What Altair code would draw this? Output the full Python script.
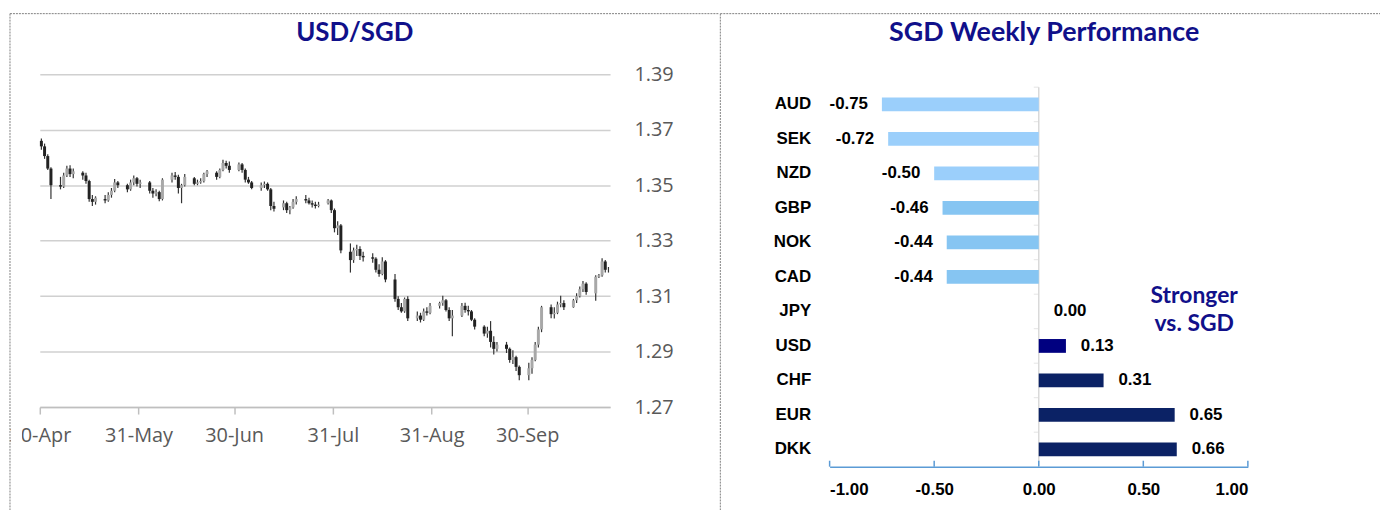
import altair as alt
import pandas as pd

# ---------------- USD/SGD daily candles ----------------
dates = pd.bdate_range("2024-04-30", "2024-10-25") + pd.Timedelta(hours=12)

opens = [
    1.3660, 1.3640, 1.3605, 1.3560,
    1.3500, 1.3495, 1.3535, 1.3560, 1.3540,
    1.3545, 1.3535, 1.3515, 1.3450, 1.3440,
    1.3450, 1.3445, 1.3465, 1.3480, 1.3510,
    1.3500, 1.3485, 1.3510, 1.3525, 1.3505,
    1.3510, 1.3480, 1.3470, 1.3475, 1.3450,
    1.3520, 1.3535, 1.3530, 1.3490, 1.3500,
    1.3525, 1.3505, 1.3510, 1.3515, 1.3540,
    1.3545, 1.3530, 1.3555, 1.3580, 1.3570,
    1.3555, 1.3575, 1.3555, 1.3520, 1.3510,
    1.3490, 1.3500, 1.3505, 1.3485, 1.3425,
    1.3420, 1.3435, 1.3410, 1.3420, 1.3440,
    1.3450, 1.3445, 1.3435, 1.3430, 1.3425,
    1.3435, 1.3445, 1.3410, 1.3345, 1.3355,
    1.3260, 1.3230, 1.3265, 1.3270, 1.3245,
    1.3240, 1.3235, 1.3195, 1.3180, 1.3225,
    1.3160, 1.3090, 1.3060, 1.3045, 1.3090,
    1.3020, 1.3030, 1.3015, 1.3045, 1.3040,
    1.3065, 1.3075, 1.3085, 1.3050, 1.3020,
    1.3030, 1.3065, 1.3050, 1.3045, 1.3015,
    1.2990, 1.2965, 1.2975, 1.2935, 1.2910,
    1.2925, 1.2910, 1.2870, 1.2880, 1.2845,
    1.2815, 1.2840, 1.2870, 1.2925, 1.2980,
    1.3060, 1.3035, 1.3040, 1.3070, 1.3075,
    1.3060, 1.3085, 1.3100, 1.3125, 1.3145,
    1.3110, 1.3170, 1.3175, 1.3225, 1.3195,
]
highs = [
    1.3668, 1.3650, 1.3612, 1.3565,
    1.3530, 1.3545, 1.3570, 1.3572, 1.3560,
    1.3550, 1.3545, 1.3520, 1.3465, 1.3460,
    1.3465, 1.3475, 1.3490, 1.3522, 1.3515,
    1.3505, 1.3520, 1.3535, 1.3530, 1.3520,
    1.3515, 1.3490, 1.3485, 1.3480, 1.3525,
    1.3545, 1.3548, 1.3538, 1.3505, 1.3540,
    1.3530, 1.3520, 1.3525, 1.3545, 1.3555,
    1.3550, 1.3560, 1.3592, 1.3588, 1.3585,
    1.3582, 1.3580, 1.3560, 1.3530, 1.3515,
    1.3510, 1.3513, 1.3510, 1.3490, 1.3440,
    1.3445, 1.3440, 1.3425, 1.3450, 1.3460,
    1.3465, 1.3455, 1.3445, 1.3440, 1.3440,
    1.3450, 1.3448, 1.3416, 1.3370, 1.3360,
    1.3290, 1.3275, 1.3285, 1.3280, 1.3260,
    1.3255, 1.3240, 1.3215, 1.3240, 1.3230,
    1.3180, 1.3100, 1.3075, 1.3095, 1.3100,
    1.3045, 1.3040, 1.3055, 1.3060, 1.3075,
    1.3080, 1.3101, 1.3090, 1.3060, 1.3050,
    1.3075, 1.3076, 1.3065, 1.3050, 1.3020,
    1.2995, 1.2990, 1.3010, 1.2955, 1.2935,
    1.2935, 1.2915, 1.2905, 1.2885, 1.2850,
    1.2860, 1.2880, 1.2935, 1.2990, 1.3065,
    1.3070, 1.3060, 1.3080, 1.3101, 1.3085,
    1.3090, 1.3110, 1.3135, 1.3155, 1.3150,
    1.3175, 1.3180, 1.3237, 1.3230, 1.3205,
]
lows = [
    1.3628, 1.3595, 1.3555, 1.3450,
    1.3485, 1.3490, 1.3530, 1.3530, 1.3525,
    1.3520, 1.3505, 1.3440, 1.3425, 1.3430,
    1.3435, 1.3440, 1.3455, 1.3475, 1.3490,
    1.3475, 1.3480, 1.3500, 1.3495, 1.3490,
    1.3470, 1.3455, 1.3460, 1.3442, 1.3445,
    1.3510, 1.3520, 1.3470, 1.3435, 1.3495,
    1.3500, 1.3500, 1.3505, 1.3510, 1.3530,
    1.3520, 1.3525, 1.3550, 1.3560, 1.3545,
    1.3550, 1.3545, 1.3510, 1.3505, 1.3485,
    1.3480, 1.3490, 1.3480, 1.3410, 1.3405,
    1.3410, 1.3400, 1.3395, 1.3415, 1.3430,
    1.3435, 1.3430, 1.3420, 1.3416, 1.3420,
    1.3430, 1.3400, 1.3330, 1.3320, 1.3255,
    1.3185, 1.3220, 1.3245, 1.3230, 1.3225,
    1.3220, 1.3185, 1.3170, 1.3175, 1.3150,
    1.3080, 1.3050, 1.3040, 1.3040, 1.3010,
    1.3010, 1.3005, 1.3010, 1.3030, 1.3035,
    1.3055, 1.3065, 1.3045, 1.3010, 1.2955,
    1.3025, 1.3040, 1.3030, 1.3010, 1.2980,
    1.2955, 1.2950, 1.2915, 1.2890, 1.2900,
    1.2895, 1.2860, 1.2855, 1.2830, 1.2797,
    1.2797, 1.2820, 1.2865, 1.2915, 1.2970,
    1.3020, 1.3019, 1.3035, 1.3060, 1.3050,
    1.3058, 1.3075, 1.3095, 1.3115, 1.3105,
    1.3083, 1.3165, 1.3170, 1.3185, 1.3185,
]
closes = [
    1.3640, 1.3605, 1.3560, 1.3500,
    1.3495, 1.3535, 1.3560, 1.3540, 1.3550,
    1.3535, 1.3515, 1.3450, 1.3440, 1.3455,
    1.3445, 1.3465, 1.3480, 1.3510, 1.3500,
    1.3485, 1.3510, 1.3525, 1.3505, 1.3510,
    1.3480, 1.3470, 1.3475, 1.3450, 1.3520,
    1.3535, 1.3530, 1.3490, 1.3500, 1.3530,
    1.3505, 1.3510, 1.3515, 1.3540, 1.3550,
    1.3530, 1.3555, 1.3580, 1.3570, 1.3555,
    1.3575, 1.3555, 1.3520, 1.3510, 1.3490,
    1.3500, 1.3505, 1.3485, 1.3425, 1.3415,
    1.3435, 1.3410, 1.3420, 1.3440, 1.3450,
    1.3445, 1.3435, 1.3430, 1.3425, 1.3430,
    1.3445, 1.3410, 1.3345, 1.3355, 1.3265,
    1.3230, 1.3265, 1.3270, 1.3245, 1.3240,
    1.3235, 1.3195, 1.3180, 1.3225, 1.3160,
    1.3090, 1.3060, 1.3045, 1.3090, 1.3020,
    1.3030, 1.3015, 1.3045, 1.3040, 1.3065,
    1.3075, 1.3085, 1.3050, 1.3020, 1.3030,
    1.3065, 1.3050, 1.3045, 1.3015, 1.2990,
    1.2965, 1.2975, 1.2935, 1.2910, 1.2925,
    1.2910, 1.2870, 1.2880, 1.2845, 1.2815,
    1.2840, 1.2870, 1.2925, 1.2980, 1.3060,
    1.3035, 1.3040, 1.3070, 1.3075, 1.3060,
    1.3085, 1.3100, 1.3125, 1.3145, 1.3115,
    1.3170, 1.3175, 1.3225, 1.3195, 1.3195,
]
y_ticks = [1.27, 1.29, 1.31, 1.33, 1.35, 1.37, 1.39]
left_title = ["USD/SGD"]

# ---------------- SGD weekly performance ----------------
currencies = ["AUD", "SEK", "NZD", "GBP", "NOK", "CAD", "JPY", "USD", "CHF", "EUR", "DKK"]
perf = [-0.75, -0.72, -0.50, -0.46, -0.44, -0.44, 0.00, 0.13, 0.31, 0.65, 0.66]
perf_ticks = [-1.0, -0.5, 0.0, 0.5, 1.0]
right_title = ["SGD Weekly Performance"]
note_text = ["Stronger\nvs. SGD"]

NAVY = "#10108A"
GREY_TXT = "#595959"
AXIS_GREY = "#BFBFBF"
LFONT = "Open Sans"
TFONT = "Lato"
RFONT = "Liberation Sans"
RSIZE = 17

# ====== left panel ======
W1, H1 = 574, 335
ohlc = pd.DataFrame({"date": dates, "open": opens, "high": highs, "low": lows, "close": closes})
ohlc["date"] = ohlc["date"].dt.strftime("%Y-%m-%dT%H:%M:%S")

xdom = [alt.DateTime(year=2024, month=4, date=30), alt.DateTime(year=2024, month=10, date=26)]
xvals = [
    alt.DateTime(year=2024, month=4, date=30),
    alt.DateTime(year=2024, month=5, date=31),
    alt.DateTime(year=2024, month=6, date=30),
    alt.DateTime(year=2024, month=7, date=31),
    alt.DateTime(year=2024, month=8, date=31),
    alt.DateTime(year=2024, month=9, date=30),
]

xenc = alt.X(
    "date:T",
    scale=alt.Scale(domain=xdom),
    axis=alt.Axis(
        values=xvals, format="%d-%b", formatType="time", title=None, grid=False,
        domainColor=AXIS_GREY, domainWidth=1.5, tickColor=AXIS_GREY, tickWidth=1.5,
        tickSize=7, labelFont=LFONT, labelFontSize=20, labelColor=GREY_TXT,
        labelPadding=12, labelFlush=False, labelOverlap=False,
    ),
)
yscale = alt.Scale(domain=[1.27, 1.39], zero=False, nice=False)

base = alt.Chart(ohlc)
wick = base.mark_rule(color="#333333", strokeWidth=1.2).encode(
    x=xenc,
    y=alt.Y(
        "low:Q", scale=yscale,
        axis=alt.Axis(
            orient="right", values=y_ticks, format=".2f", title=None, domain=False,
            ticks=False, labelPadding=24, labelFont=LFONT, labelFontSize=20,
            labelColor=GREY_TXT, gridColor="#D0D0D0", gridWidth=1.5,
        ),
    ),
    y2="high:Q",
)
body = base.mark_rule(strokeWidth=3).encode(
    x="date:T",
    y="open:Q",
    y2="close:Q",
    color=alt.condition("datum.close >= datum.open", alt.value("#A8A8A8"), alt.value("#222222")),
)

one = pd.DataFrame({"k": [0]})
mask = alt.Chart(one).mark_rect(color="white").encode(
    x=alt.value(-29), x2=alt.value(-18), y=alt.value(340), y2=alt.value(400)
)
left_border = alt.Chart(one).mark_rule(color="#808080", strokeDash=[2, 1], strokeWidth=1).encode(
    x=alt.value(-30), y=alt.value(-61), y2=alt.value(450)
)
top_border_l = alt.Chart(one).mark_rule(color="#808080", strokeDash=[2, 1], strokeWidth=1).encode(
    x=alt.value(-30), x2=alt.value(683), y=alt.value(-61)
)
ltitle = alt.Chart(pd.DataFrame({"t": left_title})).mark_text(
    font=TFONT, fontSize=26, fontWeight="bold", color=NAVY, align="center", baseline="middle"
).encode(text="t:N", x=alt.value(317), y=alt.value(-41))

left = alt.layer(wick, body, mask, left_border, top_border_l, ltitle).properties(width=W1, height=H1)

# ====== right panel (plot origin shared with left: page y 72) ======
TOP = 13
W2, H2 = 421, 395
perf_df = pd.DataFrame({"cur": currencies, "val": perf})
perf_df["lab"] = [f"{v:.2f}" for v in perf]
color_range = ["#9BCFFB", "#9BCFFB", "#9BCFFB", "#86C5F2", "#86C5F2", "#86C5F2",
               "#0B2265", "#000080", "#0B2265", "#0B2265", "#0B2265"]

xs = alt.Scale(domain=[-1, 1], nice=False, zero=False)
ys = alt.Scale(paddingInner=0.6, paddingOuter=0.3, range=[TOP, H2])

bars = alt.Chart(perf_df).mark_bar().encode(
    x=alt.X(
        "val:Q", scale=xs,
        axis=alt.Axis(
            values=perf_ticks, title=None, grid=False, ticks=False,
            labelExpr="replace(format(datum.value, '.2f'), '\u2212', '-')",
            domainColor="#5B9BD5", domainWidth=1.5, labelFont=RFONT, labelFontSize=RSIZE,
            labelFontWeight="bold", labelColor="black", labelPadding=15,
        ),
    ),
    y=alt.Y(
        "cur:N", sort=currencies, scale=ys,
        axis=alt.Axis(
            title=None, domain=False, ticks=False, labelPadding=19, labelFont=RFONT,
            labelFontSize=RSIZE, labelFontWeight="bold", labelColor="black",
        ),
    ),
    color=alt.Color("cur:N", scale=alt.Scale(domain=currencies, range=color_range), legend=None),
)
zero_line = alt.Chart(pd.DataFrame({"z": [0.0]})).mark_rule(color="#D9D9D9", strokeWidth=1.5).encode(
    x="z:Q", y=alt.value(TOP), y2=alt.value(H2)
)
cat_ticks = alt.Chart(perf_df).mark_tick(
    orient="horizontal", size=5, thickness=1, color="#D9D9D9", xOffset=-2.5, yOffset=-17.36
).encode(x=alt.datum(0), y=alt.Y("cur:N", sort=currencies))
x_ticks = alt.Chart(pd.DataFrame({"t": perf_ticks})).mark_rule(color="#5B9BD5", strokeWidth=1.5).encode(
    x="t:Q", y=alt.value(H2 - 6), y2=alt.value(H2)
)
lab_neg = alt.Chart(perf_df).transform_filter("datum.val < 0").mark_text(
    align="right", baseline="middle", dx=-14, font=RFONT, fontSize=RSIZE, fontWeight="bold", color="black"
).encode(x="val:Q", y=alt.Y("cur:N", sort=currencies), text="lab:N")
lab_pos = alt.Chart(perf_df).transform_filter("datum.val >= 0").mark_text(
    align="left", baseline="middle", dx=15, font=RFONT, fontSize=RSIZE, fontWeight="bold", color="black"
).encode(x="val:Q", y=alt.Y("cur:N", sort=currencies), text="lab:N")
note = alt.Chart(pd.DataFrame({"t": note_text})).mark_text(
    font=TFONT, fontSize=23, fontWeight="bold", color=NAVY, align="center", baseline="middle",
    lineBreak="\n", lineHeight=28,
).encode(text="t:N", x=alt.value(367), y=alt.value(223))
rtitle = alt.Chart(pd.DataFrame({"t": right_title})).mark_text(
    font=TFONT, fontSize=27, fontWeight="bold", color=NAVY, align="center", baseline="middle"
).encode(text="t:N", x=alt.value(216), y=alt.value(-41))
divider = alt.Chart(one).mark_rule(color="#808080", strokeDash=[2, 1], strokeWidth=1).encode(
    x=alt.value(-110), y=alt.value(-61), y2=alt.value(450)
)
top_border_r = alt.Chart(one).mark_rule(color="#808080", strokeDash=[2, 1], strokeWidth=1).encode(
    x=alt.value(-110), x2=alt.value(554), y=alt.value(-61)
)

right = alt.layer(
    zero_line, cat_ticks, bars, x_ticks, lab_neg, lab_pos, note, rtitle, divider, top_border_r
).properties(width=W2, height=H2)

chart = alt.hconcat(left, right, spacing=0).properties(
    padding={"top": 3, "left": 0, "right": 0, "bottom": 0},
    background="white",
).configure_view(strokeWidth=0, stroke="transparent")

chart.save("out.html", embed_options={"renderer": "svg", "actions": False})
